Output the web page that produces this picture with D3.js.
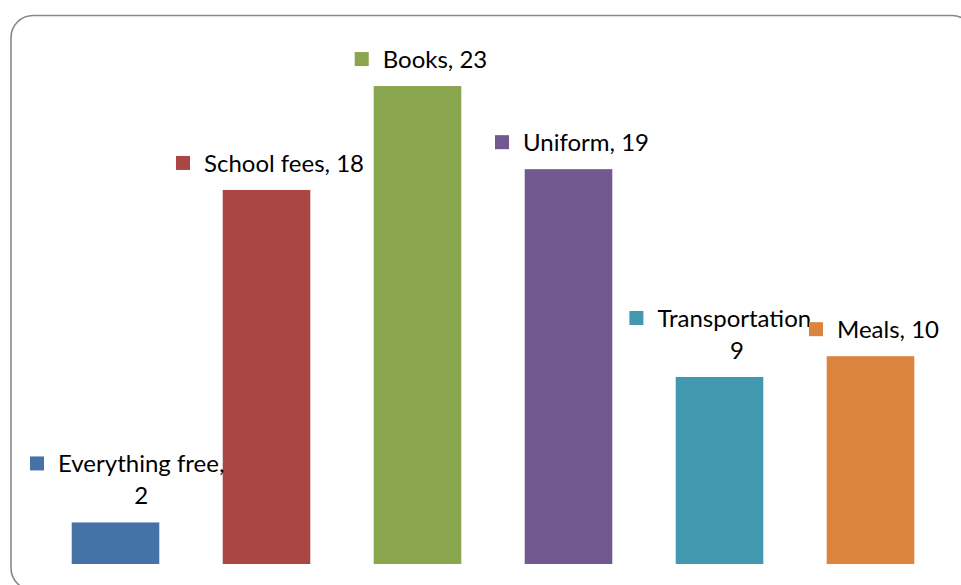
<!DOCTYPE html>
<html>
<head>
<meta charset="utf-8">
<script src="https://cdn.jsdelivr.net/npm/d3@7"></script>
<style>
  html, body { margin: 0; padding: 0; background: #ffffff; }
  svg { display: block; }
  .lbl { font-family: Lato, "Noto Sans", sans-serif; font-size: 24px; fill: #000000; }
</style>
</head>
<body>
<svg id="chart" width="961" height="585"></svg>
<script>
// Reasons given for school costs
const categories = ["Everything free", "School fees", "Books", "Uniform", "Transportation", "Meals"];
const values = [2, 18, 23, 19, 9, 10];
const colors = ["#4572A7", "#AA4643", "#89A54E", "#71588F", "#4198AF", "#DB843D"];
const yDomain = [0, 25];

const svg = d3.select("#chart");

// Rounded chart-area frame (runs off the right and bottom edges)
svg.append("rect")
  .attr("x", 11).attr("y", 15.5)
  .attr("width", 963).attr("height", 574.5)
  .attr("rx", 22).attr("ry", 22)
  .attr("fill", "#ffffff")
  .attr("stroke", "#878787")
  .attr("stroke-width", 1.6);

const x = d3.scaleBand()
  .domain(categories)
  .range([40, 946])
  .paddingInner(0.42)
  .paddingOuter(0.21);

const y = d3.scaleLinear()
  .domain(yDomain)
  .range([564, 44.5]);

const data = categories.map((c, i) => ({ cat: c, val: values[i], color: colors[i] }));

// Bars
svg.append("g").selectAll("rect")
  .data(data)
  .join("rect")
  .attr("x", d => x(d.cat))
  .attr("y", d => y(d.val))
  .attr("width", x.bandwidth())
  .attr("height", d => y(0) - y(d.val))
  .attr("fill", d => d.color);

// Data labels: legend key + "Category, value", wrapped when too wide
const maxTextWidth = 170;
const lineGap = 32;
const keySize = 14;
const keyGap = 14;
const labels = svg.append("g");

data.forEach(d => {
  const g = labels.append("g");
  const full = `${d.cat}, ${d.val}`;
  const probe = g.append("text").attr("class", "lbl").text(full);
  let lines = [full];
  if (probe.node().getComputedTextLength() > maxTextWidth) {
    const words = full.split(" ");
    let first = words[0];
    let k = 1;
    while (k < words.length - 1) {
      probe.text(first + " " + words[k]);
      if (probe.node().getComputedTextLength() > maxTextWidth) break;
      first += " " + words[k];
      k++;
    }
    lines = [first, words.slice(k).join(" ")];
  }
  const widths = lines.map(t => { probe.text(t); return probe.node().getComputedTextLength(); });
  probe.remove();
  const textW = d3.max(widths);
  const blockW = keySize + keyGap + textW;
  const cx = x(d.cat) + x.bandwidth() / 2 + 3.5;
  const left = Math.max(30, cx - blockW / 2);
  const textCx = left + keySize + keyGap + textW / 2;
  const lastBaseline = y(d.val) - 18;
  const firstBaseline = lastBaseline - lineGap * (lines.length - 1);

  g.append("rect")
    .attr("x", left)
    .attr("y", firstBaseline - 8 - keySize / 2 - 1)
    .attr("width", keySize).attr("height", keySize)
    .attr("fill", d.color);

  lines.forEach((t, i) => {
    g.append("text")
      .attr("class", "lbl")
      .attr("x", textCx)
      .attr("y", firstBaseline + i * lineGap)
      .attr("text-anchor", "middle")
      .text(t);
  });
});
</script>
</body>
</html>
